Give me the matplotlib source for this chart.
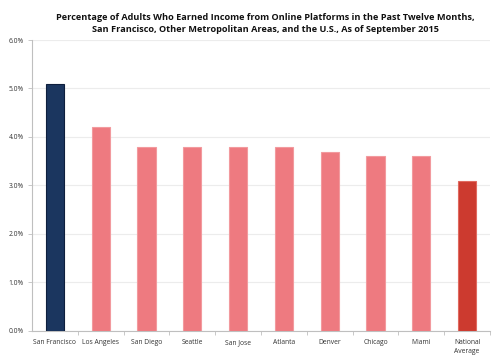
import matplotlib
matplotlib.use('Agg')
import matplotlib.pyplot as plt
from matplotlib.ticker import FuncFormatter

# data
cities = ['San Francisco', 'Los Angeles', 'San Diego', 'Seattle', 'San Jose',
          'Atlanta', 'Denver', 'Chicago', 'Miami', 'National\nAverage']
share = [5.1, 4.2, 3.8, 3.8, 3.8, 3.8, 3.7, 3.6, 3.6, 3.1]
bar_colors = ['#1b365f'] + ['#ee7a80'] * 8 + ['#cc3a2f']
edge_colors = ['#0e1f3d'] + ['#f29a9e'] * 8 + ['#e06a60']

plt.rcParams['font.family'] = ['Open Sans', 'DejaVu Sans']

fig = plt.figure(figsize=(5, 3.62), dpi=100)
ax = fig.add_axes([0.064, 0.086, 0.916, 0.8035])

x = range(len(cities))
ax.bar(x, share, width=0.4, color=bar_colors, edgecolor=edge_colors, linewidth=0.8, zorder=3)

ax.set_ylim(0, 6)
ax.set_xlim(-0.5, len(cities) - 0.5)
ax.set_yticks([0, 1, 2, 3, 4, 5, 6])
ax.yaxis.set_major_formatter(FuncFormatter(lambda v, p: '%.1f%%' % v))
ax.grid(axis='y', color='#ececec', linewidth=0.8, zorder=0)

ax.set_xticks(list(x))
ax.set_xticklabels(cities, fontsize=4.9, color='#333333', linespacing=1.3)
ax.set_xticks([i + 0.5 for i in range(len(cities))], minor=True)
ax.tick_params(axis='x', which='major', length=0, pad=6)
ax.tick_params(axis='x', which='minor', length=3, color='#bfbfbf', width=0.6)
ax.tick_params(axis='y', labelsize=4.9, labelcolor='#333333', length=3, color='#bfbfbf', width=0.6, pad=3)

for s in ['top', 'right']:
    ax.spines[s].set_visible(False)
for s in ['left', 'bottom']:
    ax.spines[s].set_color('#bfbfbf')
    ax.spines[s].set_linewidth(0.8)

fig.text(0.53, 0.935, 'Percentage of Adults Who Earned Income from Online Platforms in the Past Twelve Months,\n'
         'San Francisco, Other Metropolitan Areas, and the U.S., As of September 2015',
         ha='center', va='center', fontsize=6.6, fontweight='bold', color='#111111', linespacing=1.5)

fig.savefig('out.png', dpi=100)
